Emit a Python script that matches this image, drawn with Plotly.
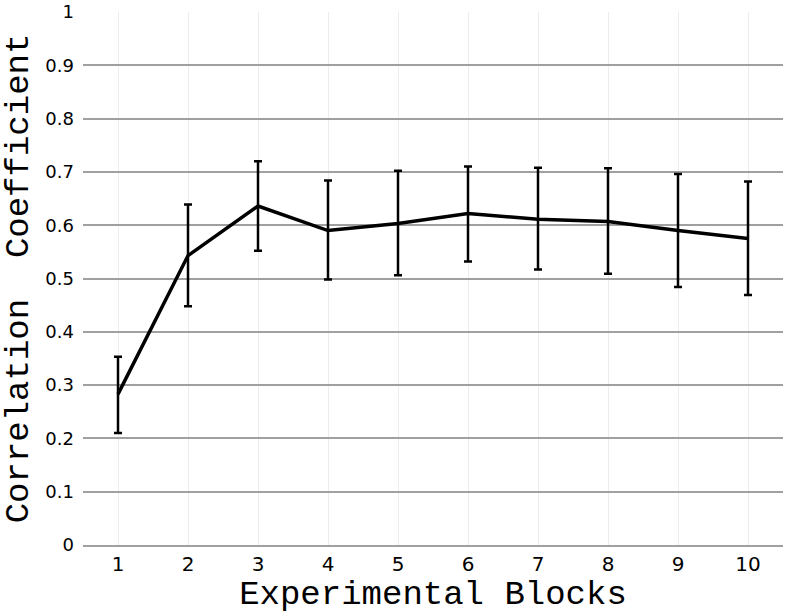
import plotly.graph_objects as go

blocks = [1, 2, 3, 4, 5, 6, 7, 8, 9, 10]
corr = [0.283, 0.543, 0.636, 0.590, 0.603, 0.622, 0.611, 0.607, 0.590, 0.575]
err_plus = [0.070, 0.096, 0.084, 0.094, 0.099, 0.088, 0.097, 0.100, 0.106, 0.107]
err_minus = [0.073, 0.095, 0.084, 0.092, 0.097, 0.090, 0.094, 0.098, 0.106, 0.106]
y_ticks = [0, 0.1, 0.2, 0.3, 0.4, 0.5, 0.6, 0.7, 0.8, 0.9, 1]
y_labels = ["0", "0.1", "0.2", "0.3", "0.4", "0.5", "0.6", "0.7", "0.8", "0.9", "1"]

fig = go.Figure()
fig.add_trace(go.Scatter(
    x=blocks, y=corr, mode="lines",
    line=dict(color="black", width=3.5),
    error_y=dict(type="data", symmetric=False, array=err_plus, arrayminus=err_minus,
                 color="black", thickness=2.5, width=4),
    showlegend=False,
))

fig.update_layout(
    width=788, height=614,
    margin=dict(l=83, r=5, t=12, b=69),
    plot_bgcolor="white", paper_bgcolor="white",
    xaxis=dict(
        range=[0.5, 10.5], tickmode="array", tickvals=blocks,
        ticktext=[str(b) for b in blocks],
        showgrid=True, gridcolor="#ececec", gridwidth=1,
        showline=True, linecolor="#a0a0a0", linewidth=2,
        zeroline=False, ticks="",
        ticklabelstandoff=0,
        tickfont=dict(family="DejaVu Sans", size=20, color="black"),
        title=dict(text="Experimental Blocks",
                   font=dict(family="Liberation Mono", size=34, color="black"),
                   standoff=8),
    ),
    yaxis=dict(
        range=[0, 1], tickmode="array", tickvals=y_ticks, ticktext=y_labels,
        showgrid=True, gridcolor="#a0a0a0", gridwidth=1.5,
        zeroline=False, showline=False, ticks="",
        ticklabeloverflow="allow", automargin="left+right",
        tickfont=dict(family="DejaVu Sans", size=18, color="black"),
        ticklabelstandoff=8,
        title=dict(text="Correlation  Coefficient",
                   font=dict(family="Liberation Mono", size=34, color="black"),
                   standoff=8),
    ),
)

fig.write_html("out.html")
